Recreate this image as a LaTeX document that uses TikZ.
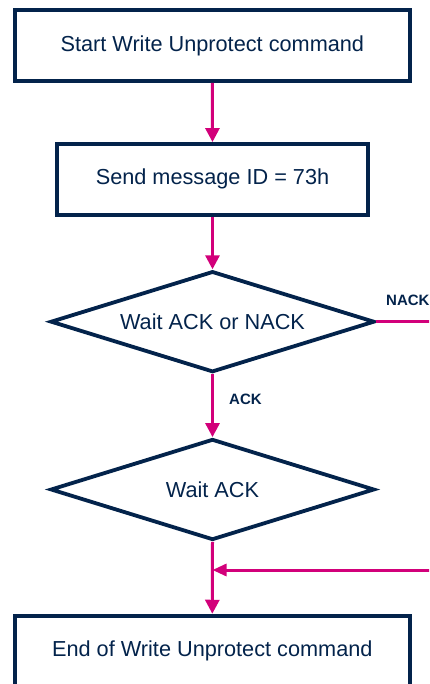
\documentclass[tikz,border=0pt]{standalone}
\usepackage{fontspec}
\setmainfont{Liberation Sans}
\usetikzlibrary{arrows.meta,shapes.geometric,calc}
\definecolor{stnavy}{RGB}{3,35,75}
\definecolor{stpink}{RGB}{210,0,122}
\begin{document}
\begin{tikzpicture}[x=1pt,y=-1pt,
  procbox/.style={draw=stnavy,line width=3.8pt,rectangle,inner sep=0pt,
    text=stnavy,font=\fontsize{21.7}{26}\selectfont},
  decbox/.style={draw=stnavy,line width=3.8pt,diamond,aspect=3.3,inner sep=0pt,
    minimum width=324pt,minimum height=101pt,
    text=stnavy,font=\fontsize{21.7}{26}\selectfont},
  flow/.style={draw=stpink,line width=3pt,-{Triangle[length=14pt,width=14pt]}},
  link/.style={draw=stpink,line width=3pt},
  lbl/.style={text=stnavy,font=\fontsize{15}{18}\selectfont\bfseries,inner sep=0pt,anchor=base west}]
\useasboundingbox (0,0) rectangle (429,684);
\clip (0,0) rectangle (429,684);
\node[procbox,minimum width=395.3pt,minimum height=70.7pt] (b1) at (212.3,45.6) {Start Write Unprotect command};
\node[procbox,minimum width=310.7pt,minimum height=70.7pt] (b2) at (212.5,179.3) {Send message ID = 73h};
\node[decbox] (d1) at (212.5,321.7) {Wait ACK or NACK};
\node[decbox] (d2) at (212.5,489.5) {Wait ACK};
\node[procbox,minimum width=395.3pt,minimum height=70.7pt] (b3) at (212.3,651) {End of Write Unprotect command};
\coordinate (nackend) at (440,321.7);
\coordinate (retstart) at (440,570);
\coordinate (join) at (d2.south |- retstart);
\draw[flow] (b1.south) -- (b2.north);
\draw[flow] (b2.south) -- (d1.north);
\draw[flow] (d1.south) -- (d2.north);
\draw[flow] (d2.south) -- (b3.north);
\draw[link] (d1.east) -- (nackend);
\draw[flow,-{Triangle[length=14pt,width=12pt]}] (retstart) -- (join);
\node[lbl] (ack) at (229,404) {ACK};
\node[lbl] (nack) at (386,305.7) {NACK};
\end{tikzpicture}
\end{document}
